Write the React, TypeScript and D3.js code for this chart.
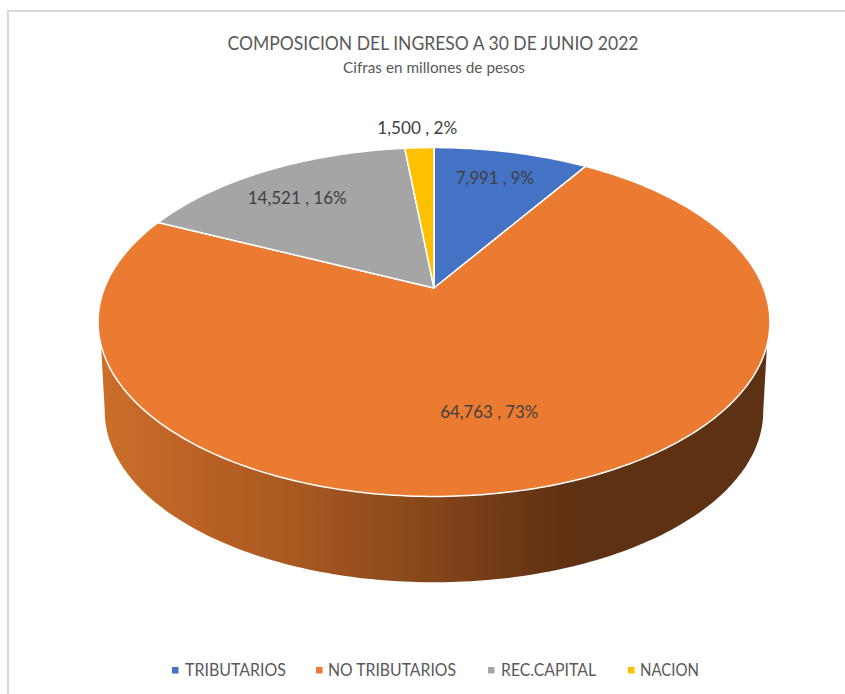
import * as d3 from 'd3';
import { type FC } from 'react';

const categories = ['TRIBUTARIOS', 'NO TRIBUTARIOS', 'REC.CAPITAL', 'NACION'];
const values = [7991, 64763, 14521, 1500];
const colors = ['#4472c4', '#ea7b31', '#a5a5a5', '#ffc000'];

// label placement, along each slice's middle angle
const labelRadius = [0.785, 0.674, 0.74, 1.175];
const labelNudge = [-2, -16, -10, 0];
const labelWidth = [78, 98, 99, 80];

// legend layout: swatch left, text left, text width
const legendSwatch = [172, 316, 488, 628];
const legendText = [185, 328, 501, 640];
const legendWidth = [101, 128, 95, 59];

const width = 845;
const height = 694;
const font = 'Lato, Carlito, sans-serif';
const textColor = '#595959';

// tilted disc: the perspective puts the pie's hub above the ellipse middle
const cx = 434;
const hubY = 288;
const tilt = 0.195;
const radiusX = 329.5;
const radiusY = 167.8;

// the bottom rim is the same disc a little smaller and further down
const bottomScale = 0.98;
const bottomHubY = 378;

const project = (
  angle: number,
  r = 1,
  y0 = hubY,
  scale = 1,
): [number, number] => {
  const u = Math.sin(angle) * r;
  const v = -Math.cos(angle) * r;
  const k = 1 - tilt * v;
  return [cx + (scale * radiusX * u) / k, y0 + (scale * radiusY * v) / k];
};

const line = d3.line();

const arcPoints = (
  a0: number,
  a1: number,
  y0 = hubY,
  scale = 1,
): [number, number][] => {
  const steps = Math.max(2, Math.ceil(Math.abs(a1 - a0) * 60));
  return d3.range(steps + 1).map((i) =>
    project(a0 + ((a1 - a0) * i) / steps, 1, y0, scale),
  );
};

const pie = d3
  .pie<number>()
  .sort(null)
  .value((d) => d);

const App: FC = () => {
  const slices = pie(values);
  const total = d3.sum(values);
  const fmt = d3.format(',');

  // wall runs round the front of the disc, right rim to left rim
  const wallTop = arcPoints(Math.PI - 1.246, Math.PI + 1.246);
  const wallBottom = arcPoints(
    Math.PI + 1.375,
    Math.PI - 1.375,
    bottomHubY,
    bottomScale,
  );
  const wallPath = `${line([...wallTop, ...wallBottom])}Z`;

  return (
    <svg
      width={width}
      height={height}
      viewBox={`0 0 ${width} ${height}`}
      style={{ position: 'absolute', left: 0, top: 0, background: '#fff' }}
    >
      <defs>
        <linearGradient
          id="wall"
          gradientUnits="userSpaceOnUse"
          x1={100}
          x2={770}
          y1={0}
          y2={0}
        >
          <stop offset="0" stopColor="#cb6f2a" />
          <stop offset="0.15" stopColor="#ba6124" />
          <stop offset="0.3" stopColor="#a75820" />
          <stop offset="0.5" stopColor="#84451a" />
          <stop offset="0.6" stopColor="#703a16" />
          <stop offset="0.71" stopColor="#5e3112" />
          <stop offset="1" stopColor="#5e3112" />
        </linearGradient>
      </defs>

      <path
        d={`M8 ${height}V11H${width}`}
        fill="none"
        stroke="#d9d9d9"
        strokeWidth={2}
      />

      <text
        x={433}
        y={50}
        textAnchor="middle"
        fontFamily={font}
        fontSize={20}
        fill={textColor}
        textLength={411}
        lengthAdjust="spacingAndGlyphs"
      >
        COMPOSICION DEL INGRESO A 30 DE JUNIO 2022
      </text>
      <text
        x={434}
        y={73}
        textAnchor="middle"
        fontFamily={font}
        fontSize={16}
        fill={textColor}
        textLength={182}
        lengthAdjust="spacingAndGlyphs"
      >
        Cifras en millones de pesos
      </text>

      <path d={wallPath} fill="url(#wall)" />

      {slices.map((s, i) => {
        const pts = [
          project(0, 0),
          ...arcPoints(s.startAngle, s.endAngle),
        ] as [number, number][];
        return (
          <path
            key={categories[i]}
            d={`${line(pts)}Z`}
            fill={colors[i]}
            stroke="#fff"
            strokeWidth={1.5}
            strokeLinejoin="round"
          />
        );
      })}

      {slices.map((s, i) => {
        const [x, y] = project(
          (s.startAngle + s.endAngle) / 2,
          labelRadius[i],
        );
        const pct = Math.round((s.value / total) * 100);
        return (
          <text
            key={categories[i]}
            x={x + labelNudge[i]}
            y={y + 6}
            textAnchor="middle"
            fontFamily={font}
            fontSize={18}
            fill="#404040"
            textLength={labelWidth[i]}
            lengthAdjust="spacingAndGlyphs"
          >
            {`${fmt(s.value)} , ${pct}%`}
          </text>
        );
      })}

      {categories.map((c, i) => (
        <g key={c}>
          <rect
            x={legendSwatch[i]}
            y={667}
            width={6.5}
            height={6.5}
            fill={colors[i]}
          />
          <text
            x={legendText[i]}
            y={676}
            fontFamily={font}
            fontSize={18}
            fill={textColor}
            textLength={legendWidth[i]}
            lengthAdjust="spacingAndGlyphs"
          >
            {c}
          </text>
        </g>
      ))}
    </svg>
  );
};

export default App;
